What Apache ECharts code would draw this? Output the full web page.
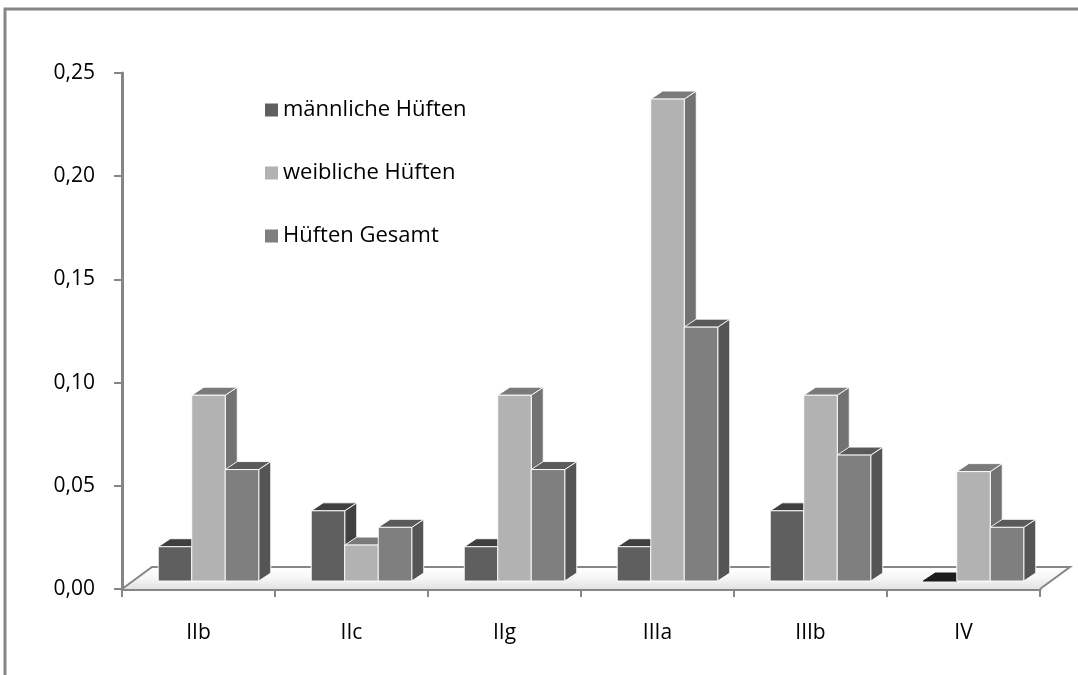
<!DOCTYPE html>
<html>
<head>
<meta charset="utf-8">
<script src="https://cdn.jsdelivr.net/npm/echarts@6/dist/echarts.min.js"></script>
<style>
  html, body { margin: 0; padding: 0; background: #fff; }
  #chart { width: 1078px; height: 675px; }
</style>
</head>
<body>
<div id="chart"></div>
<script>
// Hip classification groups and rates per group
const categories = ['IIb', 'IIc', 'IIg', 'IIIa', 'IIIb', 'IV'];
const maleHips   = [0.0166, 0.034, 0.0166, 0.0166, 0.034, 0.0];
const femaleHips = [0.090, 0.0174, 0.090, 0.2335, 0.090, 0.053];
const totalHips  = [0.054, 0.026, 0.054, 0.123, 0.061, 0.026];
const seriesNames = ['männliche Hüften', 'weibliche Hüften', 'Hüften Gesamt'];
const yTicks = [0, 0.05, 0.10, 0.15, 0.20, 0.25];

const FONT = '"Open Sans", "Noto Sans", sans-serif';
const AXIS_GREY = '#868686';

// oblique 3D offsets (pixels): bar front plane, bar depth, floor depth
const FRONT_DX = 10, FRONT_DY = -8;
const BAR_DX = 12, BAR_DY = -8;
const FLOOR_DX = 30, FLOOR_DY = -22;
const BAR_SHARE = 0.219;

// face colours: front / top / side
const palettes = [
  { front: '#5f5f5f', top: '#3f3f3f', side: '#414141', zero: '#1c1c1c' },
  { front: '#b2b2b2', top: '#7a7a7a', side: '#727272', zero: '#7a7a7a' },
  { front: '#7f7f7f', top: '#5a5a5a', side: '#555555', zero: '#5a5a5a' }
];

function makeBarRenderer(slot) {
  const pal = palettes[slot];
  return function (params, api) {
    const ci = api.value(0);
    const v = api.value(1);
    const base = api.coord([ci, 0]);
    const top = api.coord([ci, v]);
    const band = api.size([1, 0])[0];
    const w = band * BAR_SHARE;
    const x0 = base[0] + FRONT_DX - 1.5 * w + slot * w;
    const yBot = base[1] + FRONT_DY;
    const yTop = top[1] + FRONT_DY;
    const edge = { stroke: 'rgba(255,255,255,0.9)', lineWidth: 1 };
    const topFace = {
      type: 'polygon',
      shape: { points: [[x0, yTop], [x0 + w, yTop], [x0 + w + BAR_DX, yTop + BAR_DY], [x0 + BAR_DX, yTop + BAR_DY]] },
      style: Object.assign({ fill: v > 0 ? pal.top : pal.zero }, v > 0 ? edge : { stroke: pal.zero, lineWidth: 1 })
    };
    const children = [];
    if (v > 0) {
      children.push({
        type: 'polygon',
        shape: { points: [[x0 + w, yTop], [x0 + w + BAR_DX, yTop + BAR_DY], [x0 + w + BAR_DX, yBot + BAR_DY], [x0 + w, yBot]] },
        style: Object.assign({ fill: pal.side }, edge)
      });
    }
    children.push(topFace);
    if (v > 0) {
      children.push({
        type: 'rect',
        shape: { x: x0, y: yTop, width: w, height: yBot - yTop },
        style: Object.assign({ fill: pal.front }, edge)
      });
    }
    return { type: 'group', children: children };
  };
}

function renderFloor(params, api) {
  const cs = params.coordSys;
  const xl = cs.x, xr = cs.x + cs.width, y = cs.y + cs.height;
  return {
    type: 'group',
    children: [
      {
        type: 'polygon',
        shape: { points: [[xl, y], [xr, y], [xr + FLOOR_DX, y + FLOOR_DY], [xl + FLOOR_DX, y + FLOOR_DY]] },
        style: {
          fill: new echarts.graphic.LinearGradient(0, 1, 0, 0, [
            { offset: 0, color: '#e2e2e2' },
            { offset: 0.5, color: '#f6f6f6' },
            { offset: 1, color: '#ffffff' }
          ])
        }
      },
      {
        type: 'polyline',
        shape: { points: [[xl, y], [xl + FLOOR_DX, y + FLOOR_DY], [xr + FLOOR_DX, y + FLOOR_DY], [xr, y]] },
        style: { fill: null, stroke: AXIS_GREY, lineWidth: 2 }
      }
    ]
  };
}

const valueSets = [maleHips, femaleHips, totalHips];

const chart = echarts.init(document.getElementById('chart'), null, { renderer: 'canvas' });
chart.setOption({
  animation: false,
  backgroundColor: '#ffffff',
  graphic: [{
    type: 'rect',
    shape: { x: 5, y: 9, width: 1200, height: 800 },
    style: { fill: null, stroke: AXIS_GREY, lineWidth: 3 },
    silent: true
  }],
  grid: { left: 122, right: 38, top: 73, bottom: 86, containLabel: false },
  legend: {
    data: seriesNames,
    orient: 'vertical',
    left: 260,
    top: 94,
    icon: 'rect',
    itemWidth: 13,
    itemHeight: 13,
    itemGap: 41,
    textStyle: { fontFamily: FONT, fontSize: 22, color: '#000', lineHeight: 22 },
    selectedMode: false
  },
  xAxis: {
    type: 'category',
    data: categories,
    axisLine: { lineStyle: { color: AXIS_GREY, width: 3 } },
    axisTick: { show: true, length: 8, lineStyle: { color: AXIS_GREY, width: 2 } },
    axisLabel: { margin: 34, fontFamily: FONT, fontSize: 21, color: '#000' },
    splitLine: { show: false }
  },
  yAxis: {
    type: 'value',
    min: yTicks[0],
    max: yTicks[yTicks.length - 1],
    interval: yTicks[1] - yTicks[0],
    axisLine: { show: true, lineStyle: { color: AXIS_GREY, width: 3 } },
    axisTick: { show: true, length: 8, lineStyle: { color: AXIS_GREY, width: 2 } },
    axisLabel: {
      margin: 27, fontFamily: FONT, fontSize: 21, color: '#000',
      formatter: function (v) { return v.toFixed(2).replace('.', ','); }
    },
    splitLine: { show: false }
  },
  series: [
    {
      type: 'custom',
      name: 'floor',
      z: 1,
      renderItem: renderFloor,
      data: [[0, 0]],
      silent: true
    }
  ].concat(seriesNames.map(function (name, s) {
    return {
      type: 'custom',
      name: name,
      z: 2,
      itemStyle: { color: palettes[s].front },
      renderItem: makeBarRenderer(s),
      encode: { x: 0, y: 1 },
      data: categories.map(function (c, i) { return [i, valueSets[s][i]]; })
    };
  }))
});
</script>
</body>
</html>
